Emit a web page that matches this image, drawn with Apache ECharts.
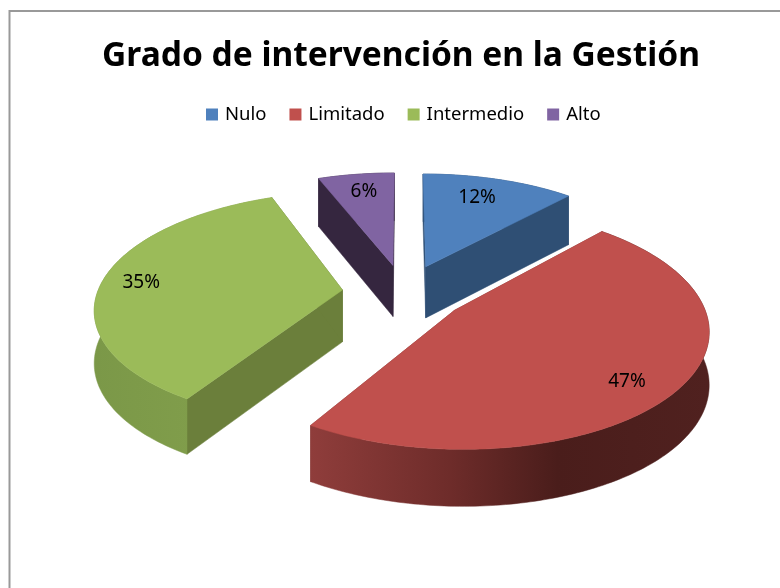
<!DOCTYPE html>
<html><head><meta charset="utf-8">
<style>html,body{margin:0;padding:0;background:#fff}#c{width:780px;height:588px}</style>
<script src="https://cdn.jsdelivr.net/npm/echarts@6/dist/echarts.min.js"></script>
</head><body><div id="c"></div>
<script>
const titleText = 'Grado de intervención en la Gestión';
const categories = ['Nulo', 'Limitado', 'Intermedio', 'Alto'];
const values = [11.8, 47.1, 35.3, 5.9];
const topColors = ['#4F81BD', '#C0504D', '#9BBB59', '#8064A2'];
const faceColors = ['#2F4F74', '#7A3230', '#6B7F3B', '#35263F'];
const rimStops = [
  [[0, '#2F4F74'], [1, '#2F4F74']],
  [[0, '#8F3D3B'], [0.35, '#6E2C2A'], [0.62, '#4A1D1B'], [1, '#50211F']],
  [[0, '#7B9848'], [1, '#84A14D']],
  [[0, '#35263F'], [1, '#35263F']]
];
const labelNudgeDeg = [-2.6, 4.1, 0, 0.5];
const labelRadius = [0.78, 0.82, 0.84, 0.81];

// projection of the tilted, exploded disc
const cx = 404, cy = 292.6, R = 245, explode = 62, tiltK = 0.462, persp = 0.000593, depth = 52;
const total = values.reduce((a, b) => a + b, 0);
const D2R = Math.PI / 180;
function persF(y) { return 1 / (1 - persp * y); }
function proj(x, y) { const f = persF(y); return [cx + x * f, cy + tiltK * y * f, depth * Math.sqrt(f)]; }
function sliceAngles(i) {
  let s = 0;
  for (let k = 0; k < i; k++) s += values[k];
  return [s / total * 360, (s + values[i]) / total * 360];
}
function polar(a, r, ox, oy) { return [ox + r * Math.sin(a * D2R), oy - r * Math.cos(a * D2R)]; }

function makeRender(i) {
  return function () {
    const [a0, a1] = sliceAngles(i);
    const mid = (a0 + a1) / 2;
    const ox = explode * Math.sin(mid * D2R), oy = -explode * Math.cos(mid * D2R);
    const topArc = [], botArc = [];
    const n = Math.max(8, Math.round(a1 - a0));
    for (let k = 0; k <= n; k++) {
      const p = polar(a0 + (a1 - a0) * k / n, R, ox, oy);
      const q = proj(p[0], p[1]);
      topArc.push([q[0], q[1]]);
      botArc.push([q[0], q[1] + q[2]]);
    }
    const ap = proj(ox, oy);
    const apexTop = [ap[0], ap[1]], apexBot = [ap[0], ap[1] + ap[2]];
    const xs = topArc.map(p => p[0]);
    const minX = Math.min.apply(null, xs), maxX = Math.max.apply(null, xs);
    const rimFill = {
      type: 'linear', global: true, x: minX, y: 0, x2: maxX, y2: 0,
      colorStops: rimStops[i].map(s => ({ offset: s[0], color: s[1] }))
    };
    const poly = (pts, fill, z2) => ({
      type: 'polygon', z2: z2, shape: { points: pts },
      style: { fill: fill, stroke: fill, lineWidth: 0.5 }
    });
    const la = polar(mid + labelNudgeDeg[i], R * labelRadius[i], ox, oy);
    const lp = proj(la[0], la[1]);
    return {
      type: 'group',
      children: [
        poly([apexTop, topArc[0], botArc[0], apexBot], faceColors[i], 1),
        poly([apexTop, topArc[n], botArc[n], apexBot], faceColors[i], 1),
        poly(topArc.concat(botArc.slice().reverse()), rimFill, 2),
        poly([apexTop].concat(topArc), topColors[i], 3),
        {
          type: 'text', z2: 4,
          style: {
            text: Math.round(values[i] / total * 100) + '%', x: lp[0], y: lp[1] + 1.5,
            align: 'center', verticalAlign: 'middle',
            fill: '#000', font: '19px "Noto Sans", sans-serif'
          }
        }
      ]
    };
  };
}

const chart = echarts.init(document.getElementById('c'), null, { renderer: 'canvas' });
chart.setOption({
  animation: false,
  backgroundColor: '#fff',
  title: {
    text: titleText, left: 396, top: 34, textAlign: 'center',
    textStyle: { fontFamily: '"Noto Sans", sans-serif', fontWeight: 'bold', fontSize: 33.5, color: '#000' }
  },
  legend: {
    data: categories, left: 201, top: 100, icon: 'rect', itemWidth: 12, itemHeight: 12, itemGap: 23, selectedMode: false,
    textStyle: { fontFamily: '"Noto Sans", sans-serif', fontSize: 18.5, color: '#000', padding: [0, 0, 0, 2] }
  },
  graphic: [{
    type: 'polyline', silent: true,
    shape: { points: [[9.5, 588], [9.5, 11], [780, 11]] },
    style: { fill: null, stroke: '#999', lineWidth: 2 }
  }],
  series: categories.map((name, i) => ({
    type: 'custom', name: name, coordinateSystem: 'none', silent: true,
    itemStyle: { color: topColors[i] },
    data: [values[i]],
    renderItem: makeRender(i)
  }))
});
</script></body></html>
